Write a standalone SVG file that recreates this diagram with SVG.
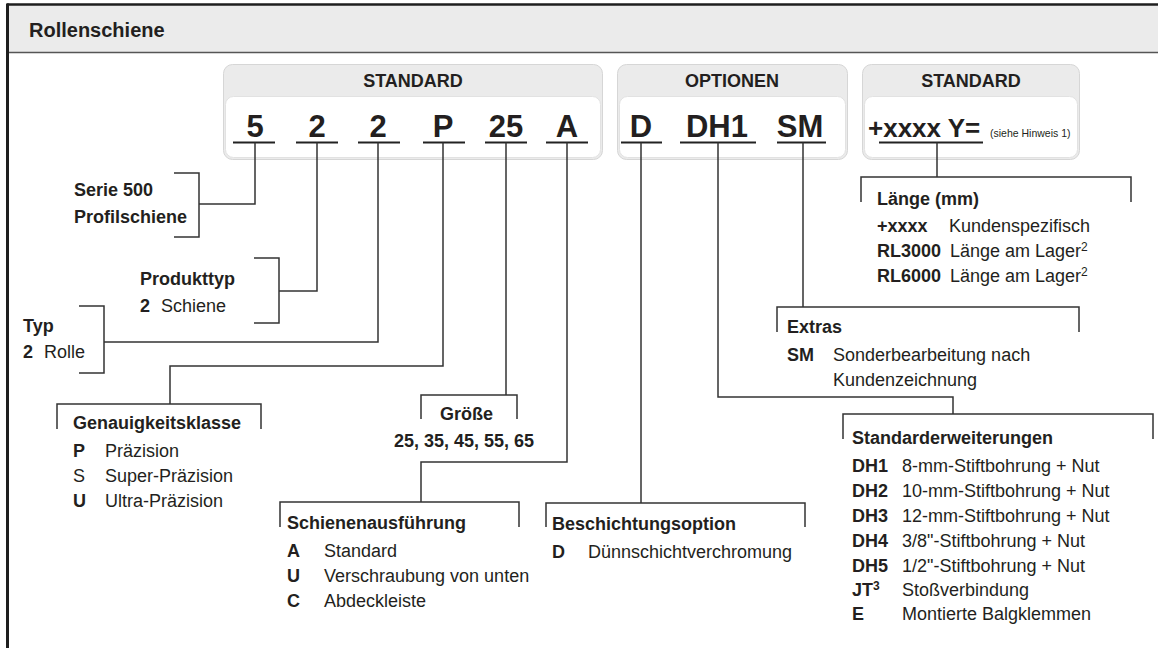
<svg xmlns="http://www.w3.org/2000/svg" width="1158" height="648" viewBox="0 0 1158 648">
<style>
text{font-family:"Liberation Sans",Arial,sans-serif;fill:#231f20;font-size:18px}
.b{font-weight:bold}
.hd{font-weight:bold;font-size:18px;text-anchor:middle}
.code{font-weight:bold;font-size:31px;text-anchor:middle}
.ln{fill:none;stroke:#333;stroke-width:1.5}
.ul{stroke:#222;stroke-width:2}
.box{fill:#ebebeb;stroke:#d6d6d6;stroke-width:1}
.inner{fill:#fff;stroke:#e2e2e2;stroke-width:1}
</style>
<rect width="1158" height="648" fill="#fff"/>
<g id="frame">
<rect x="7" y="4" width="1151" height="48" fill="#ebebeb"/>
<line x1="7" y1="4.5" x2="1158" y2="4.5" stroke="#1e1e1e" stroke-width="2.5"/>
<line x1="7" y1="52.5" x2="1158" y2="52.5" stroke="#555" stroke-width="1.6"/>
<line x1="7.5" y1="3.5" x2="7.5" y2="648" stroke="#1e1e1e" stroke-width="3"/>
<text x="29" y="37" class="b" style="font-size:20px">Rollenschiene</text>
</g>
<g id="box-standard1">
<rect class="box" x="223.5" y="64.5" width="379" height="95" rx="9"/>
<rect class="inner" x="225.5" y="96.5" width="375" height="61" rx="8"/>
<text class="hd" x="413" y="87">STANDARD</text>
<text class="code" x="255" y="137">5</text>
<text class="code" x="317" y="137">2</text>
<text class="code" x="378" y="137">2</text>
<text class="code" x="443" y="137">P</text>
<text class="code" x="506" y="137">25</text>
<text class="code" x="567" y="137">A</text>
<path class="ul" d="M233 142.5H275M296 142.5H338M358 142.5H400M423 142.5H465M485 142.5H527M546 142.5H588"/>
</g>
<g id="box-optionen">
<rect class="box" x="617.5" y="64.5" width="230" height="95" rx="9"/>
<rect class="inner" x="619.5" y="96.5" width="226" height="61" rx="8"/>
<text class="hd" x="732" y="87">OPTIONEN</text>
<text class="code" x="641" y="137">D</text>
<text class="code" x="717" y="137">DH1</text>
<text class="code" x="800" y="137">SM</text>
<path class="ul" d="M621 142.5H662M680 142.5H756M777 142.5H826"/>
</g>
<g id="box-standard2">
<rect class="box" x="862.5" y="64.5" width="217" height="95" rx="9"/>
<rect class="inner" x="864.5" y="96.5" width="213" height="61" rx="8"/>
<text class="hd" x="971" y="87">STANDARD</text>
<text x="868" y="137" class="b" style="font-size:26px">+xxxx Y=</text>
<text x="990" y="137" style="font-size:10.5px">(siehe Hinweis 1)</text>
<path class="ul" d="M879 142.5H983"/>
</g>
<g id="connectors">
<path class="ln" d="M255 142.5V204H199M174 173H199V237H174"/>
<path class="ln" d="M317 142.5V291H279M254 258H279V323H254"/>
<path class="ln" d="M378 142.5V342H104M79 306H104V373H79"/>
<path class="ln" d="M443 142.5V366H170V404M57 429V404H261V429"/>
<path class="ln" d="M506 142.5V395M421 419V395H517V419"/>
<path class="ln" d="M567 142.5V462H421V502M280 527V502H519V527"/>
<path class="ln" d="M641 142.5V503M546 527V503H805V527"/>
<path class="ln" d="M718 142.5V397H953V414M843 439V414H1153V439"/>
<path class="ln" d="M803 142.5V307M777 332V307H1079V332"/>
<path class="ln" d="M937 142.5V177M861 202V177H1131V202"/>
</g>
<g id="serie">
<text x="74" y="196" class="b">Serie 500</text>
<text x="74" y="223" class="b">Profilschiene</text>
</g>
<g id="produkttyp">
<text x="140" y="285" class="b">Produkttyp</text>
<text x="140" y="312" class="b">2</text>
<text x="161" y="312">Schiene</text>
</g>
<g id="typ">
<text x="23" y="332" class="b">Typ</text>
<text x="23" y="358" class="b">2</text>
<text x="44" y="358">Rolle</text>
</g>
<g id="genauigkeit">
<text x="73" y="429" class="b">Genauigkeitsklasse</text>
<text x="73" y="457" class="b">P</text><text x="105" y="457">Präzision</text>
<text x="73" y="482">S</text><text x="105" y="482">Super-Präzision</text>
<text x="73" y="507" class="b">U</text><text x="105" y="507">Ultra-Präzision</text>
</g>
<g id="groesse">
<text x="440" y="420" class="b">Größe</text>
<text x="394" y="447" class="b">25, 35, 45, 55, 65</text>
</g>
<g id="schiene">
<text x="287" y="529" class="b">Schienenausführung</text>
<text x="287" y="557" class="b">A</text><text x="324" y="557">Standard</text>
<text x="287" y="582" class="b">U</text><text x="324" y="582">Verschraubung von unten</text>
<text x="287" y="607" class="b">C</text><text x="324" y="607">Abdeckleiste</text>
</g>
<g id="beschichtung">
<text x="552" y="530" class="b">Beschichtungsoption</text>
<text x="552" y="558" class="b">D</text><text x="588" y="558">Dünnschichtverchromung</text>
</g>
<g id="extras">
<text x="787" y="333" class="b">Extras</text>
<text x="787" y="361" class="b">SM</text><text x="833" y="361">Sonderbearbeitung nach</text>
<text x="833" y="386">Kundenzeichnung</text>
</g>
<g id="laenge">
<text x="877" y="205" class="b">Länge (mm)</text>
<text x="877" y="232" class="b">+xxxx</text><text x="949" y="232">Kundenspezifisch</text>
<text x="877" y="257" class="b">RL3000</text><text x="950" y="257">Länge am Lager<tspan dy="-6" style="font-size:12px">2</tspan></text>
<text x="877" y="282" class="b">RL6000</text><text x="950" y="282">Länge am Lager<tspan dy="-6" style="font-size:12px">2</tspan></text>
</g>
<g id="standarderweiterungen">
<text x="852" y="444" class="b">Standarderweiterungen</text>
<text x="852" y="472" class="b">DH1</text><text x="902" y="472">8-mm-Stiftbohrung + Nut</text>
<text x="852" y="497" class="b">DH2</text><text x="902" y="497">10-mm-Stiftbohrung + Nut</text>
<text x="852" y="522" class="b">DH3</text><text x="902" y="522">12-mm-Stiftbohrung + Nut</text>
<text x="852" y="547" class="b">DH4</text><text x="902" y="547">3/8"-Stiftbohrung + Nut</text>
<text x="852" y="572" class="b">DH5</text><text x="902" y="572">1/2"-Stiftbohrung + Nut</text>
<text x="852" y="596" class="b">JT<tspan dy="-6" style="font-size:12px">3</tspan></text><text x="902" y="596">Stoßverbindung</text>
<text x="852" y="620" class="b">E</text><text x="902" y="620">Montierte Balgklemmen</text>
</g>
</svg>
